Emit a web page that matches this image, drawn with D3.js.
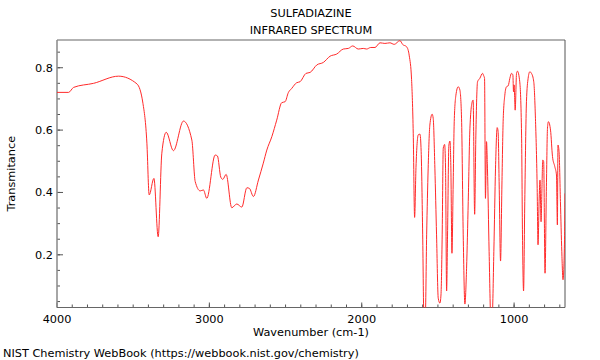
<!DOCTYPE html>
<html>
<head>
<meta charset="utf-8">
<script src="https://cdn.jsdelivr.net/npm/d3@7"></script>
<style>
body{margin:0;background:#fff;}
text{font-family:"DejaVu Sans",sans-serif;fill:#000;}
</style>
</head>
<body>
<div id="chart"></div>
<script>
var w=600;
var h=360;
var padL=57, padR=565, padT=40, padB=307.5;
var fontSize="11.3px";

var title1="SULFADIAZINE";
var title2="INFRARED SPECTRUM";
var xLabel="Wavenumber (cm-1)";
var yLabel="Transmitance";
var footer="NIST Chemistry WebBook (https://webbook.nist.gov/chemistry)";

var xTicks=[4000,3000,2000,1000];
var yTicks=[0.2,0.4,0.6,0.8];

// spectrum
var wavenumber=[4000,3924,3891,3760,3596,3475,3436,3410,3395,3364,3336,3312,3283,3236,3170,3115,3093,3060,3039,3017,
2962,2947,2925,2912,2890,2853,2820,2787,2754,2737,2711,2678,2646,2623,2590,2558,2525,2503,2482,2459,
2427,2405,2366,2339,2295,2252,2208,2164,2121,2088,2059,2023,1990,1968,1941,1913,1880,1848,1815,1787,
1749,1732,1705,1688,1673,1662,1653,1644,1629,1618,1610,1600,1592,1583,1574,1564,1553,1538,1531,1520,
1509,1498,1487,1480,1472,1465,1456,1450,1443,1437,1428,1421,1415,1408,1400,1393,1382,1367,1356,1345,
1334,1323,1312,1301,1290,1275,1269,1259,1251,1240,1225,1207,1200,1194,1188,1181,1175,1164,1153,1144,
1133,1122,1111,1105,1098,1089,1080,1072,1061,1050,1039,1028,1017,1008,1004,1000,993,984,978,963,
951,945,938,930,919,908,897,886,871,860,849,843,836,830,823,817,812,806,797,788,
781,775,761,748,733,722,716,712,705,696,687,679,669,666];
var transmit=[0.721,0.721,0.737,0.750,0.773,0.748,0.686,0.558,0.392,0.445,0.258,0.526,0.593,0.534,0.629,0.568,0.435,0.405,0.408,0.381,
0.520,0.517,0.449,0.442,0.458,0.351,0.363,0.353,0.415,0.413,0.387,0.440,0.494,0.536,0.579,0.632,0.688,0.691,0.720,0.734,
0.752,0.755,0.782,0.785,0.809,0.817,0.837,0.844,0.860,0.862,0.870,0.860,0.862,0.860,0.865,0.865,0.880,0.878,0.880,0.875,
0.887,0.875,0.867,0.838,0.763,0.590,0.320,0.480,0.585,0.587,0.531,0.264,0.0,0.0,0.264,0.478,0.616,0.651,0.638,0.478,
0.264,0.061,0.045,0.071,0.264,0.542,0.554,0.478,0.084,0.260,0.552,0.565,0.478,0.205,0.424,0.627,0.712,0.739,0.729,0.638,
0.264,0.042,0.157,0.371,0.606,0.691,0.696,0.330,0.584,0.755,0.766,0.782,0.775,0.766,0.381,0.563,0.478,0.210,0.0,0.0,
0.210,0.478,0.608,0.595,0.424,0.180,0.424,0.627,0.712,0.739,0.742,0.766,0.782,0.777,0.723,0.745,0.664,0.782,0.789,0.755,
0.584,0.264,0.084,0.371,0.691,0.766,0.787,0.782,0.755,0.638,0.424,0.232,0.370,0.440,0.306,0.420,0.504,0.499,0.141,0.420,
0.606,0.627,0.600,0.515,0.483,0.456,0.296,0.552,0.531,0.371,0.210,0.120,0.250,0.397];

var data=wavenumber.map(function(d,i){return {wn:d,t:transmit[i]};});

var xScale=d3.scaleLinear().domain([4000,666]).range([padL,padR]);
var yScale=d3.scaleLinear().domain([0.031,0.889]).range([padB,padT]);

var svg=d3.select("#chart").append("svg")
  .attr("width",w)
  .attr("height",h);

svg.append("defs").append("clipPath").attr("id","plotclip")
  .append("rect")
  .attr("x",padL).attr("y",padT)
  .attr("width",padR-padL).attr("height",padB-padT);

// minor ticks
var xMinor=d3.range(3900,666,-100);
svg.append("g").selectAll("line").data(xMinor).enter().append("line")
  .attr("x1",function(d){return xScale(d);}).attr("x2",function(d){return xScale(d);})
  .attr("y1",padB).attr("y2",padB-3)
  .attr("stroke","#555").attr("stroke-width",1);
svg.append("g").selectAll("line").data(xTicks).enter().append("line")
  .attr("x1",function(d){return xScale(d);}).attr("x2",function(d){return xScale(d);})
  .attr("y1",padB).attr("y2",padB-5)
  .attr("stroke","#555").attr("stroke-width",1);

var yMinor=d3.range(0.05,0.89,0.05);
svg.append("g").selectAll("line").data(yMinor).enter().append("line")
  .attr("x1",padL).attr("x2",padL+3)
  .attr("y1",function(d){return yScale(d);}).attr("y2",function(d){return yScale(d);})
  .attr("stroke","#555").attr("stroke-width",1);
svg.append("g").selectAll("line").data(yTicks).enter().append("line")
  .attr("x1",padL).attr("x2",padL+6)
  .attr("y1",function(d){return yScale(d);}).attr("y2",function(d){return yScale(d);})
  .attr("stroke","#555").attr("stroke-width",1);

// tick labels
svg.append("g").selectAll("text").data(xTicks).enter().append("text")
  .attr("x",function(d){return xScale(d);})
  .attr("y",padB+15)
  .style("text-anchor","middle")
  .style("font-size",fontSize)
  .text(function(d){return d;});
svg.append("g").selectAll("text").data(yTicks).enter().append("text")
  .attr("x",padL-4)
  .attr("y",function(d){return yScale(d)+4;})
  .style("text-anchor","end")
  .style("font-size",fontSize)
  .text(function(d){return d3.format(".1f")(d);});

// frame
svg.append("line").attr("x1",padL).attr("x2",padR).attr("y1",padT).attr("y2",padT)
  .attr("stroke","#999").attr("stroke-width",1.5);
svg.append("line").attr("x1",padL).attr("x2",padL).attr("y1",padT).attr("y2",padB)
  .attr("stroke","#888").attr("stroke-width",1.5);
svg.append("line").attr("x1",padL).attr("x2",padR).attr("y1",padB).attr("y2",padB)
  .attr("stroke","#666").attr("stroke-width",1.2);
svg.append("line").attr("x1",padR).attr("x2",padR).attr("y1",padT).attr("y2",padB)
  .attr("stroke","#555").attr("stroke-width",1);

// spectrum
var spec=d3.line()
  .x(function(d){return xScale(d.wn);})
  .y(function(d){return yScale(d.t);})
  .curve(d3.curveMonotoneX);

svg.append("path")
  .datum(data)
  .attr("clip-path","url(#plotclip)")
  .attr("fill","none")
  .attr("stroke","#ff2a2a")
  .attr("stroke-width",1)
  .attr("d",spec);

// titles and labels
svg.append("text").attr("x",(padL+padR)/2).attr("y",17)
  .style("text-anchor","middle").style("font-size",fontSize).text(title1);
svg.append("text").attr("x",(padL+padR)/2).attr("y",34)
  .style("text-anchor","middle").style("font-size",fontSize).text(title2);
svg.append("text").attr("x",(padL+padR)/2).attr("y",336)
  .style("text-anchor","middle").style("font-size",fontSize).text(xLabel);
svg.append("text")
  .attr("transform","translate(15,"+((padT+padB)/2)+") rotate(-90)")
  .style("text-anchor","middle").style("font-size",fontSize).text(yLabel);
svg.append("text").attr("x",3).attr("y",357)
  .style("font-size",fontSize).text(footer);
</script>
</body>
</html>
